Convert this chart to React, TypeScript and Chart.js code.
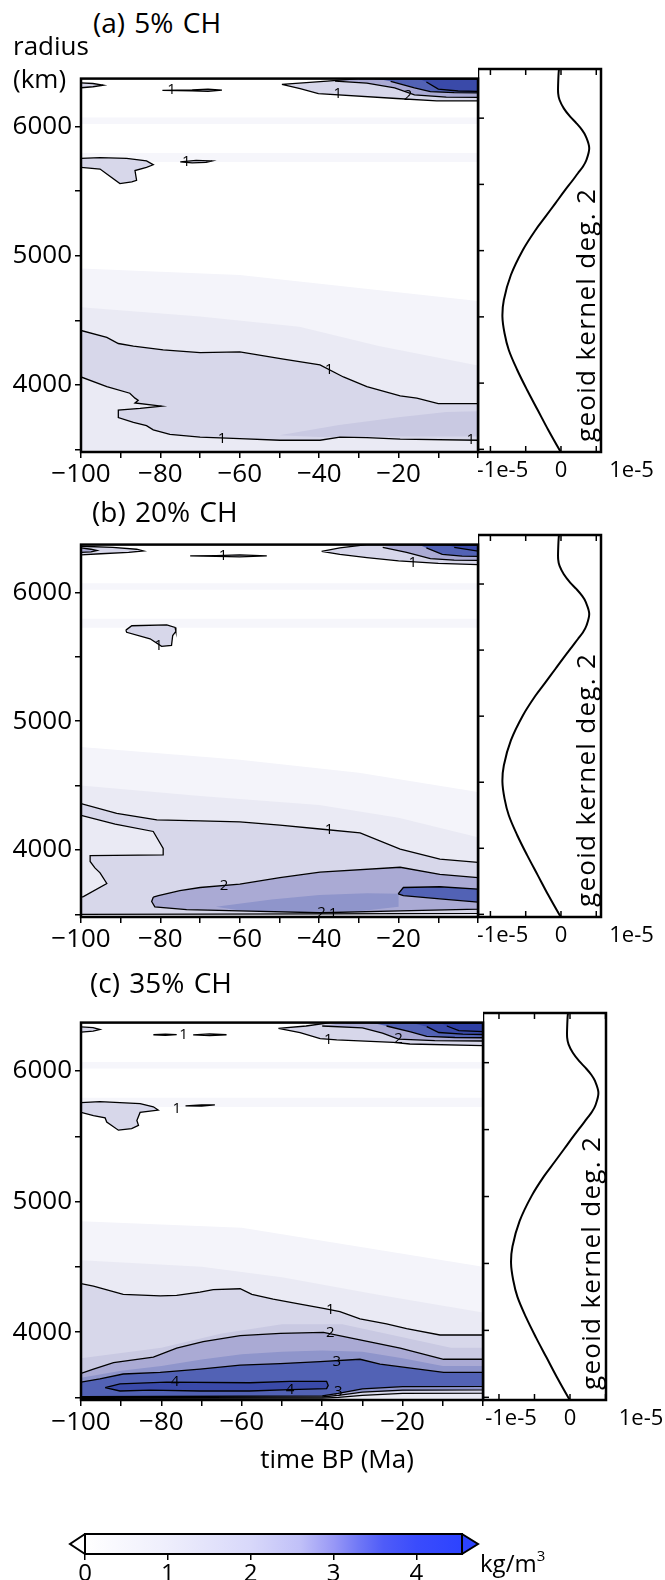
import React, { useEffect, useRef } from 'react';
import { Chart, registerables } from 'chart.js';

Chart.register(...registerables);

const FONT = "'Open Sans', 'DejaVu Sans', sans-serif";

// ---------- axes ----------
const TIME_MIN = -100;
const TIME_MAX = 0;
const R_MIN = 3480;
const R_MAX = 6371;
const TIME_TICKS = [-100, -90, -80, -70, -60, -50, -40, -30, -20, -10, 0];
const TIME_LABELED = [-100, -80, -60, -40, -20];
const R_TICKS = [3500, 4000, 4500, 5000, 5500, 6000];
const R_LABELED = [4000, 5000, 6000];
const KERNEL_TICKS = [-1, -0.5, 0, 0.5, 1];
const KERNEL_LABEL_VALUES = [-1, 0, 1];
const KERNEL_LABELS = ['-1e-5', '0', '1e-5'];
const CB_TICKS = [0, 1, 2, 3, 4];
const CB_MAX = 4.55;
const CB_STOP_VALUES = [0, 1, 2, 2.6, 3, 3.3, 3.6, 4, 4.55];
const CB_STOP_COLORS = ['#ffffff', '#eeeefc', '#d8d8fa', '#c0c0f8', '#9898f6', '#7078f6', '#4f5cf8', '#3a4cfc', '#2d43ff'];

// ---------- geoid kernel (deg. 2), value in 1e-5 ----------
const KERNEL_R = [6371, 6363, 6263, 6187, 6137, 6074, 6011, 5961, 5910, 5865, 5775, 5684, 5633, 5584, 5520, 5458, 5357, 5256, 5156, 5005, 4816, 4627, 4501, 4376, 4250, 4099, 3948, 3797, 3646, 3495, 3480];
const KERNEL_K = [-0.02, -0.03, -0.04, -0.04, -0.02, 0.04, 0.13, 0.22, 0.3, 0.35, 0.4, 0.36, 0.31, 0.24, 0.15, 0.06, -0.08, -0.22, -0.36, -0.54, -0.71, -0.81, -0.83, -0.8, -0.74, -0.62, -0.48, -0.33, -0.18, -0.02, 0];

// ---------- contour colours (kg/m^3 levels) ----------
const LEVEL_COLORS: Record<string, string> = {
  bg1: '#f4f4fa',
  bg2: '#eaeaf4',
  streak: '#f6f6fb',
  '1': '#d7d7ea',
  '1.5': '#c9c9e2',
  '2': '#aaaad4',
  '2.5': '#8f95cb',
  '3': '#5262b5',
  '4': '#3a4aa9',
  '5': '#2e3fa4',
};

// ---------- shared faint streaks [time, radius] ----------
const STREAK_1 = [[-100, 5795], [0, 5795], [0, 5725], [-100, 5725]];
const STREAK_2 = [[-100, 6070], [0, 6070], [0, 6020], [-100, 6020]];

// ---------- panel (a) 5% CH : contour polygons [time, radius] ----------
const A_BG1 = [[-100, 4900], [-60, 4850], [-30, 4750], [0, 4650], [0, 3480], [-100, 3480]];
const A_BG2 = [[-100, 4600], [-70, 4530], [-45, 4450], [-25, 4300], [0, 4150], [0, 3480], [-100, 3480]];
const A_L1_LOW = [[-100, 4421], [-93.5, 4368], [-90.6, 4320], [-86.8, 4300], [-79.3, 4270], [-70, 4250], [-60, 4255], [-49, 4199], [-39.8, 4154], [-33.9, 4061], [-28, 3986], [-19.6, 3915], [-15.4, 3897], [-10, 3855], [0, 3855], [0, 3571], [-19.6, 3580], [-28, 3591], [-34.8, 3595], [-39.8, 3571], [-49.9, 3571], [-60, 3583], [-70, 3595], [-77.6, 3616], [-81.8, 3651], [-83.5, 3684], [-86.8, 3709], [-90.6, 3746], [-90.6, 3805], [-85.1, 3817], [-79.7, 3835], [-86.4, 3860], [-85.6, 3880], [-86.4, 3897], [-87.7, 3935], [-93.5, 3986], [-100, 4061]];
const A_SHADE = [[-50, 3610], [-35, 3690], [-20, 3750], [-8, 3790], [0, 3795], [0, 3600], [-20, 3600], [-40, 3596]];
const A_L1_TOPLEFT = [[-100, 6338], [-97, 6333], [-94.4, 6320], [-97, 6308], [-100, 6300]];
const A_L1_TOPMID = [[-79.5, 6280], [-72, 6283], [-68, 6290], [-64.5, 6282], [-68, 6273], [-72, 6277], [-79.5, 6280]];
const A_L1_MIDLEFT = [[-100, 5754], [-95.2, 5759], [-88.5, 5754], [-83.5, 5734], [-81.8, 5704], [-83.5, 5684], [-86.4, 5659], [-86, 5584], [-87.2, 5571], [-90.2, 5558], [-93.5, 5633], [-95.2, 5671], [-100, 5684]];
const A_L1_MIDLENS = [[-75, 5726], [-71, 5738], [-67, 5733], [-68.5, 5722], [-72, 5718], [-75, 5726]];
const A_L1_TOPRIGHT = [[-49.4, 6326], [-38, 6352], [-30, 6371], [0, 6371], [0, 6199], [-10.4, 6199], [-20.5, 6217], [-40.2, 6255], [-44.8, 6293], [-49.4, 6326]];
const A_L2_TOPRIGHT = [[-36, 6352], [-28, 6336], [-21, 6300], [-16, 6245], [-8, 6228], [0, 6226], [0, 6371], [-30, 6371]];
const A_L3_TOPRIGHT = [[-22, 6350], [-16, 6300], [-12, 6270], [-6, 6262], [0, 6260], [0, 6371], [-26, 6371]];
const A_L4_TOPRIGHT = [[-13, 6345], [-10, 6290], [-5, 6275], [0, 6272], [0, 6371], [-15, 6371]];
const A_LABELS = [[-77.2, 6281, '1'], [-73.5, 5727, '1'], [-35.3, 6250, '1'], [-17.6, 6237, '2'], [-37.5, 4120, '1'], [-64.5, 3581, '1'], [-1.8, 3575, '1']];

// ---------- panel (b) 20% CH ----------
const B_BG1 = [[-100, 4800], [-60, 4700], [-30, 4600], [0, 4450], [0, 3480], [-100, 3480]];
const B_BG2 = [[-100, 4500], [-70, 4420], [-40, 4350], [-20, 4250], [0, 4100], [0, 3480], [-100, 3480]];
const B_L1_LOW = [[-100, 4360], [-91, 4284], [-80.9, 4234], [-70, 4227], [-60, 4219], [-49.9, 4194], [-39.8, 4163], [-29.7, 4133], [-19.6, 4007], [-9.6, 3929], [0, 3904], [0, 3508], [-40, 3504], [-100, 3500], [-100, 3634], [-99.4, 3639], [-93.5, 3740], [-95.2, 3823], [-96.5, 3861], [-97.7, 3911], [-97.7, 3957], [-79.3, 3962], [-79.3, 4012], [-81.8, 4144], [-91.4, 4201], [-100, 4269]];
const B_L2_LOW = [[-81.8, 3634], [-80.5, 3646], [-75.1, 3684], [-70, 3709], [-60, 3735], [-49.9, 3785], [-39.8, 3828], [-19.6, 3866], [-9.6, 3811], [0, 3785], [0, 3541], [-19.6, 3528], [-39.8, 3513], [-60, 3528], [-73.4, 3538], [-81.4, 3558], [-82.2, 3600], [-81.8, 3634]];
const B_CORE = [[-66, 3560], [-52, 3615], [-40, 3650], [-28, 3665], [-20, 3660], [-20, 3560], [-30, 3525], [-45, 3518], [-60, 3530]];
const B_L3_LOW = [[-20.1, 3659], [-18.8, 3709], [-9.6, 3715], [0, 3697], [0, 3596], [-9.6, 3621], [-18.8, 3646], [-20.1, 3659]];
const B_L1_TOPLEFT = [[-100, 6358], [-92, 6350], [-86, 6335], [-84.3, 6322], [-88, 6310], [-95, 6300], [-100, 6292]];
const B_L2_TOPLEFT = [[-100, 6345], [-97.5, 6335], [-96, 6325], [-97.5, 6315], [-100, 6310]];
const B_L1_TOPMID = [[-72.5, 6283], [-66, 6286], [-60, 6292], [-53.2, 6283], [-60, 6276], [-66, 6280], [-72.5, 6283]];
const B_L1_MIDLEFT = [[-88.7, 5707], [-87.2, 5741], [-78.4, 5748], [-76.3, 5728], [-76.1, 5698], [-76.9, 5665], [-77.2, 5589], [-79.7, 5581], [-82.6, 5640], [-88.5, 5690], [-88.7, 5707]];
const B_L1_TOPRIGHT = [[-39.4, 6318], [-34.8, 6346], [-28, 6371], [0, 6371], [0, 6215], [-10, 6225], [-20, 6245], [-28, 6270], [-34.8, 6295], [-39.4, 6318]];
const B_L2_TOPRIGHT = [[-24, 6350], [-18, 6310], [-12, 6262], [-6, 6250], [0, 6248], [0, 6371], [-20, 6371]];
const B_L3_TOPRIGHT = [[-13, 6345], [-9, 6295], [-4, 6282], [0, 6280], [0, 6371], [-15, 6371]];
const B_L4_TOPRIGHT = [[-6, 6350], [0, 6320], [0, 6371], [-8, 6371]];
const B_LABELS = [[-64.2, 6283, '1'], [-16.4, 6232, '1'], [-80.5, 5586, '1'], [-37.5, 4157, '1'], [-64, 3725, '2'], [-39.4, 3514, '2'], [-36.5, 3502, '1']];

// ---------- panel (c) 35% CH ----------
const C_BG1 = [[-100, 4850], [-60, 4800], [-30, 4650], [0, 4500], [0, 3480], [-100, 3480]];
const C_BG2 = [[-100, 4550], [-70, 4500], [-50, 4420], [-25, 4280], [0, 4150], [0, 3480], [-100, 3480]];
const C_L1_LOW = [[-100, 4371], [-96.9, 4352], [-89.5, 4289], [-80.3, 4277], [-76.2, 4282], [-70.4, 4307], [-67.1, 4326], [-60.4, 4332], [-57.5, 4289], [-52.2, 4252], [-45.5, 4214], [-39.7, 4182], [-35.6, 4157], [-30.6, 4102], [-24, 4064], [-19, 4027], [-10.7, 3978], [0, 3978], [0, 3532], [-20, 3530], [-30, 3515], [-36, 3500], [-40, 3495], [-100, 3492]];
const C_SHADE = [[-100, 3800], [-80, 3880], [-65, 3990], [-50, 4060], [-35, 4060], [-20, 3960], [-8, 3880], [0, 3880], [0, 3560], [-100, 3500]];
const C_L2_LOW = [[-100, 3684], [-96.9, 3717], [-91.9, 3766], [-82, 3809], [-76.2, 3878], [-69.6, 3928], [-60.4, 3973], [-50.4, 3990], [-39.7, 3998], [-30.6, 3941], [-20.6, 3878], [-9.8, 3792], [0, 3792], [0, 3557], [-20, 3555], [-30, 3540], [-36, 3515], [-40, 3503], [-100, 3498]];
const C_L25 = [[-100, 3650], [-90, 3705], [-80, 3740], [-70, 3790], [-60, 3830], [-50, 3850], [-40, 3860], [-30, 3850], [-20, 3800], [-10, 3740], [0, 3740], [0, 3560], [-100, 3500]];
const C_L3_LOW = [[-100, 3617], [-95.3, 3642], [-89.5, 3679], [-80.3, 3691], [-70.4, 3717], [-60.4, 3747], [-50.4, 3759], [-40.5, 3774], [-30.6, 3792], [-25.6, 3754], [-9.8, 3691], [0, 3691], [0, 3585], [-20, 3583], [-30, 3565], [-36, 3530], [-40, 3512], [-100, 3505]];
const C_L4 = [[-94, 3575], [-90.3, 3604], [-78.7, 3617], [-58, 3612], [-48, 3622], [-38.9, 3622], [-38.5, 3592], [-38.9, 3567], [-48, 3560], [-58, 3549], [-70.4, 3549], [-82.8, 3555], [-90.3, 3549], [-94, 3575]];
const C_L1_TOPLEFT = [[-100, 6338], [-97, 6332], [-95.3, 6318], [-97, 6306], [-100, 6298]];
const C_L1_TOPMID1 = [[-82, 6278], [-79, 6283], [-76.2, 6279], [-79, 6273], [-82, 6278]];
const C_L1_TOPMID2 = [[-72.1, 6277], [-68, 6284], [-63.8, 6278], [-68, 6271], [-72.1, 6277]];
const C_L1_MIDLEFT = [[-100, 5758], [-95.3, 5766], [-85.3, 5751], [-82, 5726], [-80.8, 5701], [-85.3, 5683], [-86.1, 5621], [-85.7, 5584], [-87.4, 5559], [-90.7, 5547], [-93.6, 5609], [-94, 5641], [-96.9, 5659], [-100, 5683]];
const C_L1_MIDLENS = [[-74, 5733], [-70, 5741], [-66.7, 5740], [-70, 5731], [-74, 5733]];
const C_L1_TOPRIGHT = [[-50.9, 6327], [-44, 6345], [-38, 6371], [0, 6371], [0, 6194], [-18.2, 6207], [-22.3, 6219], [-36.4, 6239], [-40.5, 6249], [-45.5, 6294], [-50.9, 6327]];
const C_L2_TOPRIGHT = [[-40, 6345], [-30, 6330], [-25, 6290], [-21, 6244], [-12, 6233], [0, 6230], [0, 6371], [-34, 6371]];
const C_L3_TOPRIGHT = [[-24, 6345], [-18, 6300], [-14, 6265], [-7, 6257], [0, 6255], [0, 6371], [-28, 6371]];
const C_L4_TOPRIGHT = [[-14, 6340], [-11, 6295], [-5, 6282], [0, 6280], [0, 6371], [-18, 6371]];
const C_L5_TOPRIGHT = [[-9, 6345], [-6, 6310], [0, 6302], [0, 6371], [-11, 6371]];
const C_LABELS = [[-74.5, 6275, '1'], [-38.5, 6236, '1'], [-21, 6244, '2'], [-76.2, 5710, '1'], [-38, 4170, '1'], [-38, 3996, '2'], [-36.4, 3776, '3'], [-76.6, 3617, '4'], [-48, 3556, '4'], [-36, 3545, '3']];

type Layer = [string, number[][], boolean];

const A_LAYERS: Layer[] = [
  ['bg1', A_BG1, false], ['streak', STREAK_1, false], ['streak', STREAK_2, false], ['bg2', A_BG2, false],
  ['1', A_L1_LOW, true], ['1.5', A_SHADE, false], ['1', A_L1_TOPLEFT, true], ['1', A_L1_TOPMID, true],
  ['1', A_L1_MIDLEFT, true], ['1', A_L1_MIDLENS, true], ['1', A_L1_TOPRIGHT, true],
  ['2', A_L2_TOPRIGHT, true], ['3', A_L3_TOPRIGHT, true], ['4', A_L4_TOPRIGHT, true],
];
const B_LAYERS: Layer[] = [
  ['bg1', B_BG1, false], ['streak', STREAK_1, false], ['streak', STREAK_2, false], ['bg2', B_BG2, false],
  ['1', B_L1_LOW, true], ['2', B_L2_LOW, true], ['2.5', B_CORE, false], ['3', B_L3_LOW, true],
  ['1', B_L1_TOPLEFT, true], ['2', B_L2_TOPLEFT, true], ['1', B_L1_TOPMID, true], ['1', B_L1_MIDLEFT, true],
  ['1', B_L1_TOPRIGHT, true], ['2', B_L2_TOPRIGHT, true], ['3', B_L3_TOPRIGHT, true], ['4', B_L4_TOPRIGHT, true],
];
const C_LAYERS: Layer[] = [
  ['bg1', C_BG1, false], ['streak', STREAK_1, false], ['streak', STREAK_2, false], ['bg2', C_BG2, false],
  ['1', C_L1_LOW, true], ['1.5', C_SHADE, false], ['2', C_L2_LOW, true], ['2.5', C_L25, false], ['3', C_L3_LOW, true], ['4', C_L4, true],
  ['1', C_L1_TOPLEFT, true], ['1', C_L1_TOPMID1, true], ['1', C_L1_TOPMID2, true], ['1', C_L1_MIDLEFT, true], ['1', C_L1_MIDLENS, true],
  ['1', C_L1_TOPRIGHT, true], ['2', C_L2_TOPRIGHT, true], ['3', C_L3_TOPRIGHT, true], ['4', C_L4_TOPRIGHT, true], ['5', C_L5_TOPRIGHT, true],
];

// ---------- layout (page pixels) ----------
const PANELS = [
  { title: '(a) 5% CH', titlePos: [93, 8], layers: A_LAYERS, labels: A_LABELS, plot: { left: 81, right: 478, top: 69, bottom: 452 }, side: { left: 478, right: 601, kMin: -1.176, kMax: 0.567 } },
  { title: '(b) 20% CH', titlePos: [92, 497], layers: B_LAYERS, labels: B_LABELS, plot: { left: 81, right: 478, top: 535, bottom: 917 }, side: { left: 478, right: 601, kMin: -1.176, kMax: 0.567 } },
  { title: '(c) 35% CH', titlePos: [90, 968], layers: C_LAYERS, labels: C_LABELS, plot: { left: 81, right: 483, top: 1013, bottom: 1400 }, side: { left: 483, right: 606, kMin: -1.225, kMax: 0.507 } },
];
const PAD_TOP = 9;
const XAXIS_H = 50;
const KERNEL_LABEL_DX = [12, 0, 0];

function line(ctx: CanvasRenderingContext2D, x1: number, y1: number, x2: number, y2: number) {
  ctx.beginPath();
  ctx.moveTo(x1, y1);
  ctx.lineTo(x2, y2);
  ctx.stroke();
}

function mainConfig(panel: any): any {
  const datasets = panel.layers.slice().reverse().map(([lvl, pts, stroke]: Layer) => ({
    data: pts.map(([x, y]) => ({ x, y })),
    showLine: true,
    fill: 'shape',
    backgroundColor: LEVEL_COLORS[lvl],
    borderColor: stroke ? '#000' : 'rgba(0,0,0,0)',
    borderWidth: stroke ? 1.3 : 0,
    pointRadius: 0,
    pointHoverRadius: 0,
    tension: 0,
  }));
  const decor = {
    id: 'mainDecor',
    afterDatasetsDraw(chart: any) {
      const { ctx, scales } = chart;
      ctx.save();
      ctx.font = `15px ${FONT}`;
      ctx.fillStyle = '#000';
      ctx.textAlign = 'center';
      ctx.textBaseline = 'middle';
      panel.labels.forEach(([x, r, t]: any) => {
        ctx.fillText(t, scales.x.getPixelForValue(x), scales.y.getPixelForValue(r));
      });
      ctx.restore();
    },
    afterDraw(chart: any) {
      const { ctx, chartArea: a } = chart;
      ctx.save();
      ctx.strokeStyle = '#000';
      ctx.lineWidth = 2.5;
      ctx.strokeRect(a.left, a.top, a.right - a.left, a.bottom - a.top);
      ctx.restore();
    },
  };
  const tickFont = { family: FONT, size: 26 };
  return {
    type: 'line',
    data: { datasets },
    options: {
      animation: false,
      responsive: false,
      devicePixelRatio: 1,
      events: [],
      layout: { padding: { top: PAD_TOP, right: 2, left: 0, bottom: 0 } },
      plugins: { legend: { display: false }, tooltip: { enabled: false }, filler: { drawTime: 'beforeDatasetsDraw' } },
      scales: {
        x: {
          type: 'linear', min: TIME_MIN, max: TIME_MAX,
          afterBuildTicks: (s: any) => { s.ticks = TIME_TICKS.map((v) => ({ value: v })); },
          afterFit: (s: any) => { s.height = XAXIS_H; },
          ticks: { autoSkip: false, maxRotation: 0, font: tickFont, color: '#000', padding: 1,
            callback: (v: number) => (TIME_LABELED.includes(v) ? '\u2212' + Math.abs(v) : '') },
          grid: { drawOnChartArea: false, drawTicks: true, tickLength: 6, color: '#000', lineWidth: 1.5 },
          border: { display: false },
        },
        y: {
          type: 'linear', min: R_MIN, max: R_MAX,
          afterBuildTicks: (s: any) => { s.ticks = R_TICKS.map((v) => ({ value: v })); },
          afterFit: (s: any) => { s.width = panel.plot.left; },
          ticks: { autoSkip: false, font: tickFont, color: '#000', padding: 3,
            callback: (v: number) => (R_LABELED.includes(v) ? String(v) : '') },
          grid: { drawOnChartArea: false, drawTicks: true, tickLength: 6, color: '#000', lineWidth: 1.5 },
          border: { display: false },
        },
      },
    },
    plugins: [decor],
  };
}

function sideConfig(panel: any): any {
  const side = panel.side;
  const decor = {
    id: 'sideDecor',
    afterDraw(chart: any) {
      const { ctx, chartArea: a, scales } = chart;
      ctx.save();
      ctx.strokeStyle = '#000';
      ctx.lineWidth = 1.5;
      KERNEL_TICKS.filter((v) => v > side.kMin && v < side.kMax).forEach((v) => {
        const px = scales.x.getPixelForValue(v);
        line(ctx, px, a.top, px, a.top + 6);
        line(ctx, px, a.bottom, px, a.bottom - 6);
      });
      R_TICKS.forEach((r) => {
        const py = scales.y.getPixelForValue(r);
        line(ctx, a.left, py, a.left + 6, py);
      });
      ctx.lineWidth = 2.5;
      ctx.strokeRect(a.left, a.top, a.right - a.left, a.bottom - a.top);
      ctx.fillStyle = '#000';
      ctx.font = `22px ${FONT}`;
      ctx.textAlign = 'center';
      ctx.textBaseline = 'top';
      KERNEL_LABEL_VALUES.forEach((v, i) => {
        ctx.fillText(KERNEL_LABELS[i], scales.x.getPixelForValue(v) + KERNEL_LABEL_DX[i], a.bottom + 8);
      });
      ctx.translate(a.right - 6, a.bottom - 10);
      ctx.rotate(-Math.PI / 2);
      ctx.font = `26px ${FONT}`;
      (ctx as any).letterSpacing = '1.3px';
      ctx.textAlign = 'left';
      ctx.textBaseline = 'alphabetic';
      ctx.fillText('geoid kernel deg. 2', 0, 0);
      ctx.restore();
    },
  };
  return {
    type: 'line',
    data: {
      datasets: [{
        data: KERNEL_R.map((r, i) => ({ x: KERNEL_K[i], y: r })),
        borderColor: '#000', borderWidth: 2, pointRadius: 0, fill: false, tension: 0.35,
      }],
    },
    options: {
      animation: false,
      responsive: false,
      devicePixelRatio: 1,
      events: [],
      layout: { padding: { top: PAD_TOP, right: 665 - side.right, left: 0, bottom: XAXIS_H } },
      plugins: { legend: { display: false }, tooltip: { enabled: false } },
      scales: {
        x: { type: 'linear', min: side.kMin, max: side.kMax, display: false },
        y: { type: 'linear', min: R_MIN, max: R_MAX, display: false },
      },
    },
    plugins: [decor],
  };
}

function colorbarConfig(): any {
  const rect = [[0, 0], [CB_MAX, 0], [CB_MAX, 1], [0, 1], [0, 0]];
  const leftTri = [[0, 0], [-0.181, 0.5], [0, 1]];
  const rightTri = [[CB_MAX, 0], [4.743, 0.5], [CB_MAX, 1]];
  const gradient = (c: any) => {
    const chart = c.chart;
    if (!chart.chartArea) return '#fff';
    const x0 = chart.scales.x.getPixelForValue(0);
    const x1 = chart.scales.x.getPixelForValue(CB_MAX);
    const g = chart.ctx.createLinearGradient(x0, 0, x1, 0);
    CB_STOP_VALUES.forEach((v, i) => g.addColorStop(v / CB_MAX, CB_STOP_COLORS[i]));
    return g;
  };
  const mk = (pts: number[][], bg: any) => ({
    data: pts.map(([x, y]) => ({ x, y })), showLine: true, fill: 'shape', backgroundColor: bg,
    borderColor: '#000', borderWidth: 2, pointRadius: 0, tension: 0, clip: false,
  });
  return {
    type: 'line',
    data: { datasets: [mk(rect, gradient), mk(leftTri, '#ffffff'), mk(rightTri, CB_STOP_COLORS[CB_STOP_COLORS.length - 1])] },
    options: {
      animation: false,
      responsive: false,
      devicePixelRatio: 1,
      events: [],
      layout: { padding: { top: 28, right: 665 - 478, left: 70, bottom: 0 } },
      plugins: { legend: { display: false }, tooltip: { enabled: false }, filler: { drawTime: 'beforeDatasetsDraw' } },
      scales: {
        x: {
          type: 'linear', min: -0.181, max: 4.743,
          afterBuildTicks: (s: any) => { s.ticks = CB_TICKS.map((v) => ({ value: v })); },
          afterFit: (s: any) => { s.height = 26; },
          ticks: { autoSkip: false, maxRotation: 0, font: { family: FONT, size: 24 }, color: '#000', padding: 0 },
          grid: { drawOnChartArea: false, drawTicks: true, tickLength: 6, color: '#000', lineWidth: 1.5 },
          border: { display: false },
        },
        y: { type: 'linear', min: 0, max: 1, display: false },
      },
    },
  };
}

function ChartCanvas({ left, top, width, height, make }: any) {
  const ref = useRef<HTMLCanvasElement>(null);
  useEffect(() => {
    const chart = new Chart(ref.current as HTMLCanvasElement, make());
    return () => chart.destroy();
  }, []);
  return <canvas ref={ref} width={width} height={height} style={{ position: 'absolute', left, top, width, height }} />;
}

const textStyle = (left: number, top: number, size: number): React.CSSProperties => ({
  position: 'absolute', left, top, fontSize: size, lineHeight: 1, fontFamily: FONT, color: '#000', whiteSpace: 'nowrap',
});

export default function App() {
  useEffect(() => {
    document.body.style.margin = '0';
  }, []);
  return (
    <div style={{ position: 'absolute', left: 0, top: 0, width: 665, height: 1580, background: '#fff', overflow: 'hidden' }}>
      {PANELS.map((p, i) => {
        const h = p.plot.bottom - p.plot.top + PAD_TOP + XAXIS_H;
        return (
          <React.Fragment key={i}>
            <ChartCanvas left={0} top={p.plot.top - PAD_TOP} width={p.plot.right + 2} height={h} make={() => mainConfig(p)} />
            <ChartCanvas left={p.side.left} top={p.plot.top - PAD_TOP} width={665 - p.side.left} height={h} make={() => sideConfig(p)} />
            <div style={{ ...textStyle(p.titlePos[0], p.titlePos[1], 28), wordSpacing: 2 }}>{p.title}</div>
          </React.Fragment>
        );
      })}
      <div style={textStyle(13, 32, 26)}>radius</div>
      <div style={textStyle(13, 65, 26)}>(km)</div>
      <div style={{ ...textStyle(0, 1445, 26), width: 674, textAlign: 'center' }}>time BP (Ma)</div>
      <ChartCanvas left={0} top={1506} width={665} height={74} make={colorbarConfig} />
      <div style={textStyle(480, 1551, 24)}>kg/m<sup style={{ fontSize: 15, verticalAlign: 'top', position: 'relative', top: -3 }}>3</sup></div>
    </div>
  );
}
